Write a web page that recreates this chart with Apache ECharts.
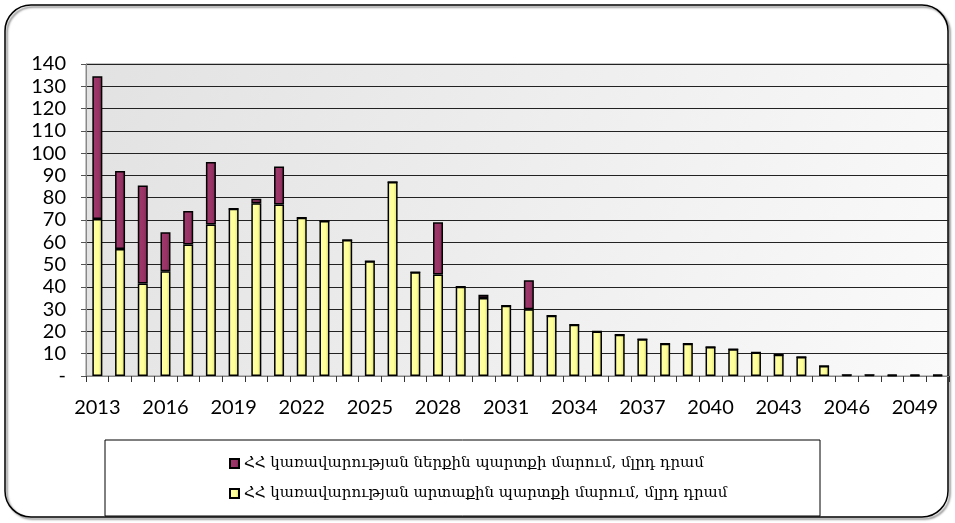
<!DOCTYPE html>
<html>
<head>
<meta charset="utf-8">
<script src="https://cdn.jsdelivr.net/npm/echarts@6/dist/echarts.min.js"></script>
<style>
  html, body { margin: 0; padding: 0; background: #fff; }
  #chart { width: 955px; height: 523px; }
</style>
</head>
<body>
<div id="chart"></div>
<script>
const years = ['2013','2014','2015','2016','2017','2018','2019','2020','2021','2022',
  '2023','2024','2025','2026','2027','2028','2029','2030','2031','2032',
  '2033','2034','2035','2036','2037','2038','2039','2040','2041','2042',
  '2043','2044','2045','2046','2047','2048','2049','2050']

// արտաքին պարտք (yellow, bottom of stack)
const externalDebt = [70.5, 57, 41.5, 47, 59, 68, 75, 77.5, 77, 71,
  69.5, 61, 51.5, 87, 46.5, 45.5, 40, 35, 31.5, 30,
  27, 23, 20, 18.5, 16.5, 14.5, 14.5, 13, 12, 10.5,
  9.5, 8.5, 4.5, 0.5, 0.5, 0.3, 0.3, 0.3]

// ներքին պարտք (maroon, on top)
const internalDebt = [64, 35, 44, 17.5, 15, 28, 0, 2, 17, 0,
  0, 0, 0, 0, 0, 23.5, 0, 1.5, 0, 13,
  0, 0, 0, 0, 0, 0, 0, 0, 0, 0,
  0, 0, 0, 0, 0, 0.3, 0.3, 0.3]

const yTicks = { min: 0, max: 140, interval: 10 }

const nameInternal = 'ՀՀ կառավարության ներքին պարտքի մարում, մլրդ դրամ'
const nameExternal = 'ՀՀ կառավարության արտաքին պարտքի մարում, մլրդ դրամ'

const chart = echarts.init(document.getElementById('chart'))

chart.setOption({
  animation: false,
  textStyle: { fontFamily: 'Lato' },
  graphic: [
    {
      // rounded outer frame
      type: 'rect',
      shape: { x: 5, y: 5, width: 943, height: 512, r: 26 },
      style: { fill: 'none', stroke: '#000', lineWidth: 1.5,
        shadowBlur: 2, shadowColor: 'rgba(0,0,0,0.5)', shadowOffsetX: 2, shadowOffsetY: 2 },
      z: 0
    },
    {
      // legend box
      type: 'rect',
      shape: { x: 105, y: 440, width: 715, height: 76 },
      style: { fill: '#fff', stroke: '#000', lineWidth: 1 },
      z: 1
    }
  ],
  grid: {
    left: 86,
    right: 6,
    top: 64,
    bottom: 147,
    show: true,
    borderColor: '#888',
    borderWidth: 1,
    backgroundColor: {
      type: 'linear', x: 0, y: 0, x2: 1, y2: 1,
      colorStops: [
        { offset: 0, color: '#e2e2e2' },
        { offset: 1, color: '#fafafa' }
      ]
    }
  },
  legend: {
    orient: 'vertical',
    left: 224,
    top: 451,
    itemGap: 15,
    itemWidth: 9,
    itemHeight: 9,
    icon: 'rect',
    z: 5,
    data: [nameInternal, nameExternal],
    textStyle: { fontFamily: 'DejaVu Serif', fontSize: 15, color: '#000' }
  },
  xAxis: {
    type: 'category',
    data: years,
    axisLine: { lineStyle: { color: '#888', width: 1 } },
    axisTick: { show: true, interval: 0, length: 6, lineStyle: { color: '#333' } },
    axisLabel: { interval: 2, fontSize: 20, color: '#000', margin: 22 }
  },
  yAxis: {
    type: 'value',
    min: yTicks.min,
    max: yTicks.max,
    interval: yTicks.interval,
    axisLine: { show: true, lineStyle: { color: '#888' } },
    axisTick: { show: true, length: 5, lineStyle: { color: '#555' } },
    splitLine: { lineStyle: { color: '#222', width: 1.2 } },
    axisLabel: {
      fontSize: 20,
      color: '#000',
      margin: 20,
      formatter: v => v === 0 ? '-' : v
    }
  },
  series: [
    {
      name: nameExternal,
      type: 'bar',
      stack: 'debt',
      data: externalDebt,
      barWidth: 10,
      itemStyle: {
        color: {
          type: 'linear', x: 0, y: 0, x2: 1, y2: 0,
          colorStops: [
            { offset: 0, color: '#ffffa8' },
            { offset: 0.6, color: '#ffff99' },
            { offset: 1, color: '#d8d870' }
          ]
        },
        borderColor: '#000',
        borderWidth: 1.5
      }
    },
    {
      name: nameInternal,
      type: 'bar',
      stack: 'debt',
      data: internalDebt,
      barWidth: 10,
      itemStyle: {
        color: {
          type: 'linear', x: 0, y: 0, x2: 1, y2: 0,
          colorStops: [
            { offset: 0, color: '#a03a6e' },
            { offset: 0.6, color: '#993366' },
            { offset: 1, color: '#7a2850' }
          ]
        },
        borderColor: '#000',
        borderWidth: 1.5
      }
    }
  ]
})
</script>
</body>
</html>
